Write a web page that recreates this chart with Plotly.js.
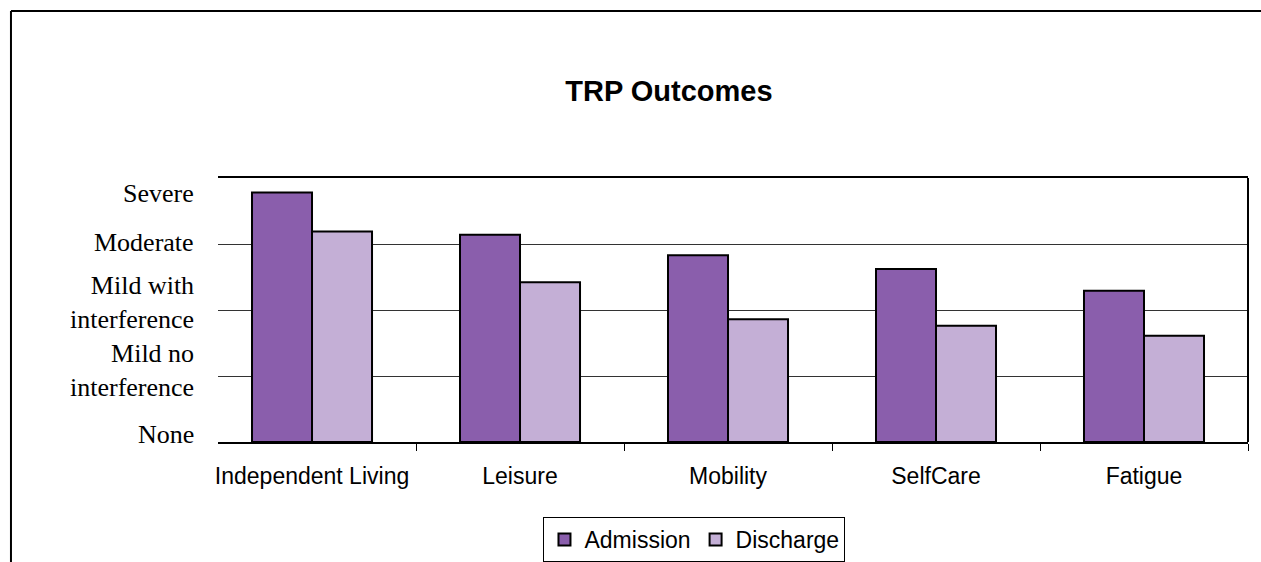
<!DOCTYPE html>
<html>
<head>
<meta charset="utf-8">
<script src="https://cdn.plot.ly/plotly-3.0.1.min.js"></script>
<style>html,body{margin:0;padding:0;background:#fff;}#chart{width:1261px;height:562px;}</style>
</head>
<body>
<div id="chart"></div>
<script>
// ---- data ----
const categories = ["Independent Living", "Leisure", "Mobility", "SelfCare", "Fatigue"];
const admission = [3.78, 3.14, 2.83, 2.62, 2.29];
const discharge = [3.19, 2.42, 1.86, 1.76, 1.61];
const severityLabels = ["None", "Mild no<br>interference", "Mild with<br>interference", "Moderate", "Severe"];
const severityLabelPos = [0.12, 1.08, 2.12, 3.02, 3.76];
const chartTitle = "TRP Outcomes";

const sans = "Liberation Sans, Arial, sans-serif";
const serif = "Liberation Serif, Times New Roman, serif";

const traces = [
  {type: "bar", name: "Admission", x: categories, y: admission,
   marker: {color: "#8a5eac", line: {color: "#000", width: 2}}},
  {type: "bar", name: "Discharge", x: categories, y: discharge,
   marker: {color: "#c4afd6", line: {color: "#000", width: 2}}}
];

const annotations = severityLabels.map((t, i) => ({
  text: t, xref: "paper", yref: "y", x: -0.0214, y: severityLabelPos[i],
  xanchor: "right", yanchor: "middle", align: "right", showarrow: false,
  font: {family: serif, size: 26, color: "#000"}
}));

const layout = {
  width: 1261, height: 562,
  margin: {l: 218, r: 13, t: 178, b: 120, autoexpand: false},
  paper_bgcolor: "#fff", plot_bgcolor: "#fff",
  title: {text: "<b>" + chartTitle + "</b>", xref: "container", yref: "container",
          x: 0.5305, xanchor: "center", y: 0.838, yanchor: "middle",
          font: {family: sans, size: 29, color: "#000"}},
  barmode: "group", bargap: 0.423, bargroupgap: 0,
  showlegend: true,
  legend: {orientation: "h", x: 0.4626, xanchor: "center", y: -0.284, yanchor: "top",
           bordercolor: "#000", borderwidth: 1, itemwidth: 30,
           font: {family: sans, size: 23, color: "#000"}, traceorder: "normal"},
  xaxis: {type: "category", range: [-0.452, 4.5], showline: true, linecolor: "#000", linewidth: 2, mirror: true,
          ticks: "outside", tickson: "boundaries", ticklen: 7, tickcolor: "#000", tickwidth: 1,
          ticklabelstandoff: 12,
          showgrid: false, fixedrange: true,
          tickfont: {family: sans, size: 23, color: "#000"}},
  yaxis: {range: [0, 4], dtick: 1, tick0: 0, showgrid: true, gridcolor: "#333", gridwidth: 1,
          showticklabels: false, zeroline: false, showline: false, ticks: "", fixedrange: true},
  shapes: [
    {type: "line", xref: "paper", yref: "paper", x0: 1, x1: 1, y0: 0, y1: 1,
     line: {color: "#000", width: 2}},
    {type: "line", xref: "paper", yref: "paper", x0: -0.201, x1: 1.1, y0: 1.6326, y1: 1.6326,
     line: {color: "#000", width: 2}},
    {type: "line", xref: "paper", yref: "paper", x0: -0.201, x1: -0.201, y0: 1.6326, y1: -0.5,
     line: {color: "#000", width: 2}}
  ],
  annotations: annotations,
  hovermode: false
};

Plotly.newPlot("chart", traces, layout, {displayModeBar: false, staticPlot: true});
</script>
</body>
</html>
